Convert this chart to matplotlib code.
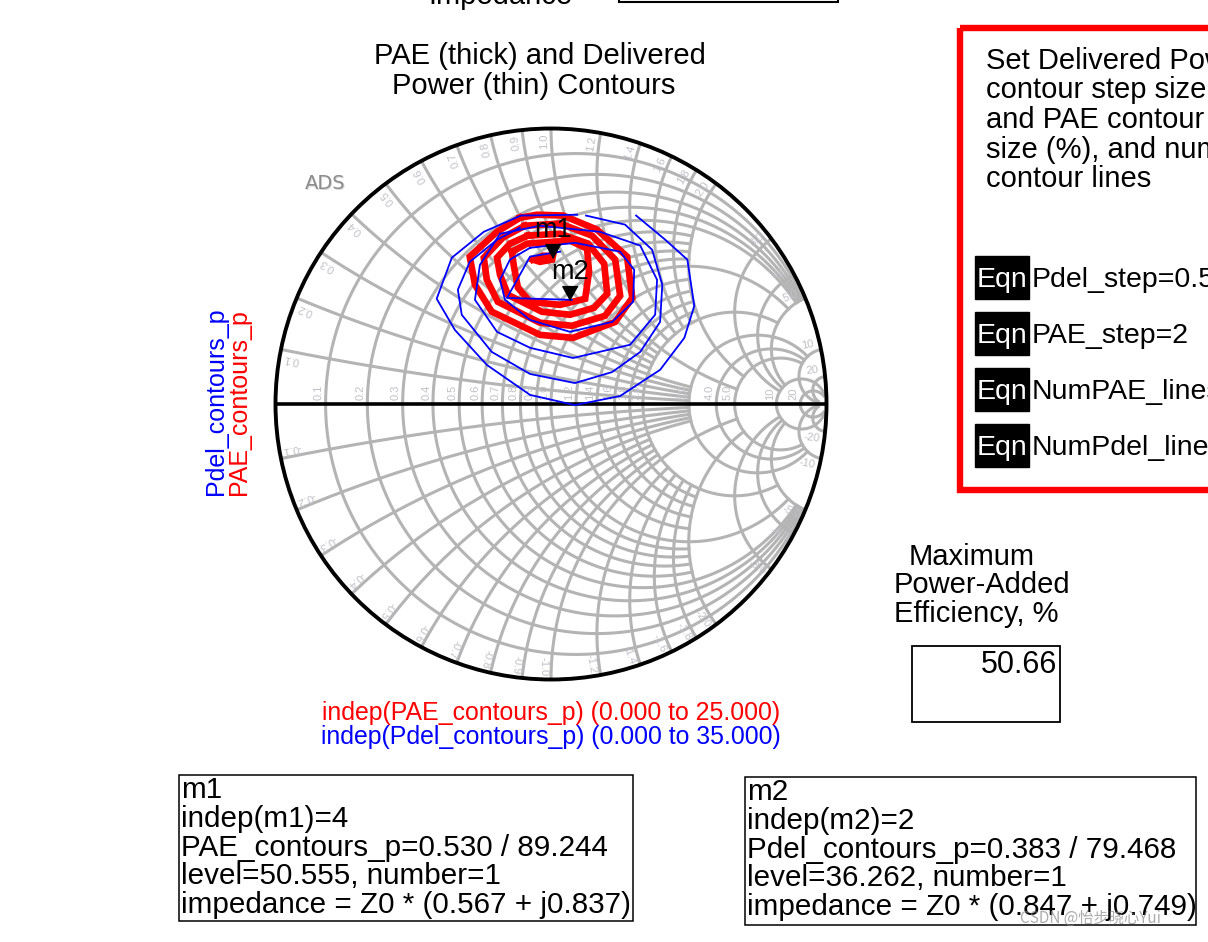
import numpy as np
import matplotlib
matplotlib.use("Agg")
import matplotlib.pyplot as plt
from matplotlib.patches import Rectangle, Circle

plt.rcParams['font.family'] = ['Liberation Sans', 'DejaVu Sans']

# PAE contours (thick red), reflection coefficient, innermost first
pae_re = [
    [-0.065, -0.029, 0.007, 0.004, -0.040, -0.065],
    [-0.142, -0.087, 0.069, 0.131, 0.138, 0.124, 0.033, -0.076, -0.120, -0.135, -0.142],
    [-0.084, 0.033, 0.135, 0.193, 0.204, 0.156, 0.069, -0.033, -0.156, -0.185, -0.196, -0.149, -0.084],
    [-0.095, 0.033, 0.149, 0.233, 0.251, 0.196, 0.076, -0.040, -0.193, -0.233, -0.244, -0.175, -0.095],
    [-0.113, -0.051, 0.044, 0.167, 0.276, 0.295, 0.233, 0.080, -0.040, -0.215, -0.276, -0.295, -0.196, -0.113],
]
pae_im = [
    [0.524, 0.538, 0.538, 0.524, 0.516, 0.524],
    [0.553, 0.582, 0.593, 0.564, 0.480, 0.382, 0.360, 0.371, 0.422, 0.502, 0.553],
    [0.611, 0.618, 0.582, 0.509, 0.400, 0.349, 0.324, 0.335, 0.396, 0.469, 0.531, 0.582, 0.611],
    [0.647, 0.655, 0.611, 0.524, 0.393, 0.320, 0.284, 0.295, 0.371, 0.451, 0.531, 0.604, 0.647],
    [0.676, 0.687, 0.684, 0.633, 0.535, 0.385, 0.298, 0.240, 0.251, 0.335, 0.433, 0.535, 0.625, 0.676],
]

# delivered power contours (thin blue), innermost first
pdel_re = [
    [0.033, -0.076, -0.160, 0.076],
    [-0.076, 0.087, 0.251, 0.302, 0.298, 0.222, 0.069, -0.076, -0.167, -0.185, -0.149, -0.076],
    [-0.185, -0.040, 0.178, 0.324, 0.385, 0.378, 0.287, 0.080, -0.076, -0.196, -0.276, -0.258, -0.185],
    [0.127, 0.269, 0.367, 0.404, 0.396, 0.324, 0.222, 0.087, -0.076, -0.215, -0.324, -0.338, -0.295, -0.196, -0.113],
    [0.309, 0.415, 0.495, 0.520, 0.484, 0.396, 0.251, 0.087, -0.076, -0.233, -0.349, -0.415, -0.360, -0.244, -0.109, 0.095],
]
pdel_im = [
    [0.553, 0.535, 0.385, 0.378],
    [0.567, 0.585, 0.553, 0.487, 0.371, 0.298, 0.262, 0.305, 0.378, 0.451, 0.524, 0.567],
    [0.618, 0.647, 0.625, 0.575, 0.451, 0.324, 0.215, 0.167, 0.204, 0.262, 0.378, 0.505, 0.618],
    [0.684, 0.651, 0.560, 0.433, 0.298, 0.189, 0.116, 0.076, 0.109, 0.189, 0.324, 0.415, 0.516, 0.596, 0.640],
    [0.684, 0.596, 0.524, 0.356, 0.240, 0.124, 0.029, -0.004, 0.033, 0.142, 0.269, 0.382, 0.531, 0.625, 0.684, 0.687],
]

# markers: magnitude / angle (deg)
m1_mag, m1_ang = 0.530, 89.244
m2_mag, m2_ang = 0.383, 79.468

m1_lines = ['m1', 'indep(m1)=4', 'PAE_contours_p=0.530 / 89.244',
            'level=50.555, number=1', 'impedance = Z0 * (0.567 + j0.837)']
m2_lines = ['m2', 'indep(m2)=2', 'Pdel_contours_p=0.383 / 79.468',
            'level=36.262, number=1', 'impedance = Z0 * (0.847 + j0.749)']

eqn_rows = ['Pdel_step=0.5', 'PAE_step=2', 'NumPAE_lines=5', 'NumPdel_lines=5']
note_lines = ['Set Delivered Power', 'contour step size (dB),', 'and PAE contour step',
              'size (%), and number of', 'contour lines']
max_pae = 50.66

grid_values = [0.1, 0.2, 0.3, 0.4, 0.5, 0.6, 0.7, 0.8, 0.9, 1.0,
               1.2, 1.4, 1.6, 1.8, 2.0, 3.0, 4.0, 5.0, 10, 20]
fine_values = [0.6, 0.7, 0.8, 0.9, 1.2, 1.4, 1.6, 1.8]


def r_extent(v):
    # how far (in |x|) each resistance circle is drawn
    if v in fine_values:
        return 2.0
    if v <= 2.0:
        return 5.0
    if v <= 5.0:
        return 10.0
    return 60.0


def x_extent(v):
    # how far (in r) each reactance arc is drawn
    if v in fine_values:
        return 2.0
    if v <= 0.5:
        return 3.0
    if v <= 2.0:
        return 5.0
    if v <= 5.0:
        return 10.0
    return 60.0


def r_curve(r, xmax):
    t = np.linspace(-np.arctan(xmax), np.arctan(xmax), 400)
    z = r + 1j * np.tan(t)
    return (z - 1) / (z + 1)


def x_curve(x, rmax):
    t = np.linspace(0, np.arctan(rmax), 400)
    z = np.tan(t) + 1j * x
    return (z - 1) / (z + 1)


def fmt(v):
    return f"{v:.1f}" if abs(v) < 10 else f"{v:.0f}"


W, H = 1208, 942
fig = plt.figure(figsize=(W / 100, H / 100), dpi=100)
page = fig.add_axes([0, 0, 1, 1])
page.set_xlim(0, W)
page.set_ylim(H, 0)
page.axis('off')

# smith chart axes
cx, cy, rad = 551, 404, 275.5
sm = fig.add_axes([(cx - rad) / W, 1 - (cy + rad) / H, 2 * rad / W, 2 * rad / H])
sm.set_xlim(-1, 1)
sm.set_ylim(-1, 1)
sm.axis('off')

grid_kw = dict(color='#b4b4b4', lw=2.2, zorder=1)
for v in grid_values:
    g = r_curve(v, r_extent(v))
    sm.plot(g.real, g.imag, **grid_kw)
    for s in (1, -1):
        g = x_curve(s * v, x_extent(v))
        sm.plot(g.real, g.imag, **grid_kw)

lab_kw = dict(fontsize=8, color='#c0c0c8', zorder=2)
for v in grid_values:
    g = (v - 1) / (v + 1)
    sm.text(g - 0.006, 0.015, fmt(v), rotation=90, ha='right', va='bottom', **lab_kw)
    for s in (1, -1):
        x = s * v
        th = np.arctan2(2 * x / (x * x + 1), (x * x - 1) / (x * x + 1))
        th2 = th + s * np.radians(1.6)
        sm.text(0.955 * np.cos(th2), 0.955 * np.sin(th2), fmt(x),
                rotation=np.degrees(th), rotation_mode='anchor',
                ha='center', va='center', **lab_kw)

sm.add_patch(Circle((0, 0), 1, fill=False, ec='black', lw=2.8, zorder=3, clip_on=False))
sm.plot([-1, 1], [0, 0], color='black', lw=2.6, zorder=3)

for re, im in zip(pae_re, pae_im):
    sm.plot(re, im, color='#ff0000', lw=4.8, zorder=4, solid_joinstyle='miter')
for re, im in zip(pdel_re, pdel_im):
    sm.plot(re, im, color='#0000ff', lw=1.3, zorder=5)

tri = [(0, 0), (-0.55, 1), (0.55, 1)]
for name, mag, ang in (('m1', m1_mag, m1_ang), ('m2', m2_mag, m2_ang)):
    g = mag * np.exp(1j * np.radians(ang))
    sm.plot([g.real], [g.imag], marker=tri, ms=20, color='black', zorder=6, lw=0)
    sm.annotate(name, (g.real, g.imag), xytext=(0, 20), textcoords='offset points',
                ha='center', va='center', fontsize=19.5, zorder=7)

sm.text(-0.815, 0.797, 'ADS', fontsize=14, color='#d8d8d8', ha='center', va='center',
        family=['DejaVu Sans'], zorder=2)
sm.text(-0.82, 0.8, 'ADS', fontsize=14, color='#8c8c8c', ha='center', va='center',
        family=['DejaVu Sans'], zorder=2)

# axis labels of the smith plot
page.text(216, 495, 'Pdel_contours_p', rotation=90, color='blue', fontsize=18,
          ha='center', va='bottom')
page.text(239, 495, 'PAE_contours_p', rotation=90, color='red', fontsize=18,
          ha='center', va='bottom')
page.text(551, 713, 'indep(PAE_contours_p) (0.000 to 25.000)', color='red',
          fontsize=17.9, ha='center', va='center')
page.text(551, 737, 'indep(Pdel_contours_p) (0.000 to 35.000)', color='blue',
          fontsize=17.9, ha='center', va='center')

# title and clipped item at top
page.text(374, 64, 'PAE (thick) and Delivered', fontsize=21, va='baseline')
page.text(392, 94, 'Power (thin) Contours', fontsize=21, va='baseline')
page.text(428, 4, 'Impedance', fontsize=21, va='baseline')
page.add_patch(Rectangle((619, -40), 219, 42, fill=False, ec='black', lw=1.5))

# equation block
page.add_patch(Rectangle((960, 28), 400, 462, fill=False, ec='red', lw=4.6))
for i, s in enumerate(note_lines):
    page.text(986, 69 + 29.5 * i, s, fontsize=21, va='baseline')
for i, s in enumerate(eqn_rows):
    top = 256 + 56 * i
    page.add_patch(Rectangle((975, top), 54, 43, color='black'))
    page.text(1002, top + 31, 'Eqn', color='white', fontsize=20.5, ha='center', va='baseline')
    page.text(1032, top + 31, s, fontsize=20.5, va='baseline')

# maximum PAE readout
page.text(909, 565, 'Maximum', fontsize=21, va='baseline')
page.text(894, 593, 'Power-Added', fontsize=21, va='baseline')
page.text(894, 622, 'Efficiency, %', fontsize=21, va='baseline')
page.add_patch(Rectangle((912, 646), 148, 76, fill=False, ec='black', lw=1.3))
page.text(1057, 673, f"{max_pae:.2f}", fontsize=22, ha='right', va='baseline')

# marker readouts
for x0, y0, w, h, lines in ((179, 775, 454, 146, m1_lines), (745, 777, 451, 148, m2_lines)):
    page.add_patch(Rectangle((x0, y0), w, h, fill=False, ec='black', lw=1.1))
    for i, s in enumerate(lines):
        page.text(x0 + 2, y0 + 23 + 28.8 * i, s, fontsize=21.3, va='baseline')

page.text(1020, 918, 'CSDN @怡步晓心Yui', fontsize=11, color='#8a8a8a', alpha=0.7,
          va='center', family=['Noto Sans CJK SC', 'DejaVu Sans'])

fig.savefig('out.png', dpi=100)
